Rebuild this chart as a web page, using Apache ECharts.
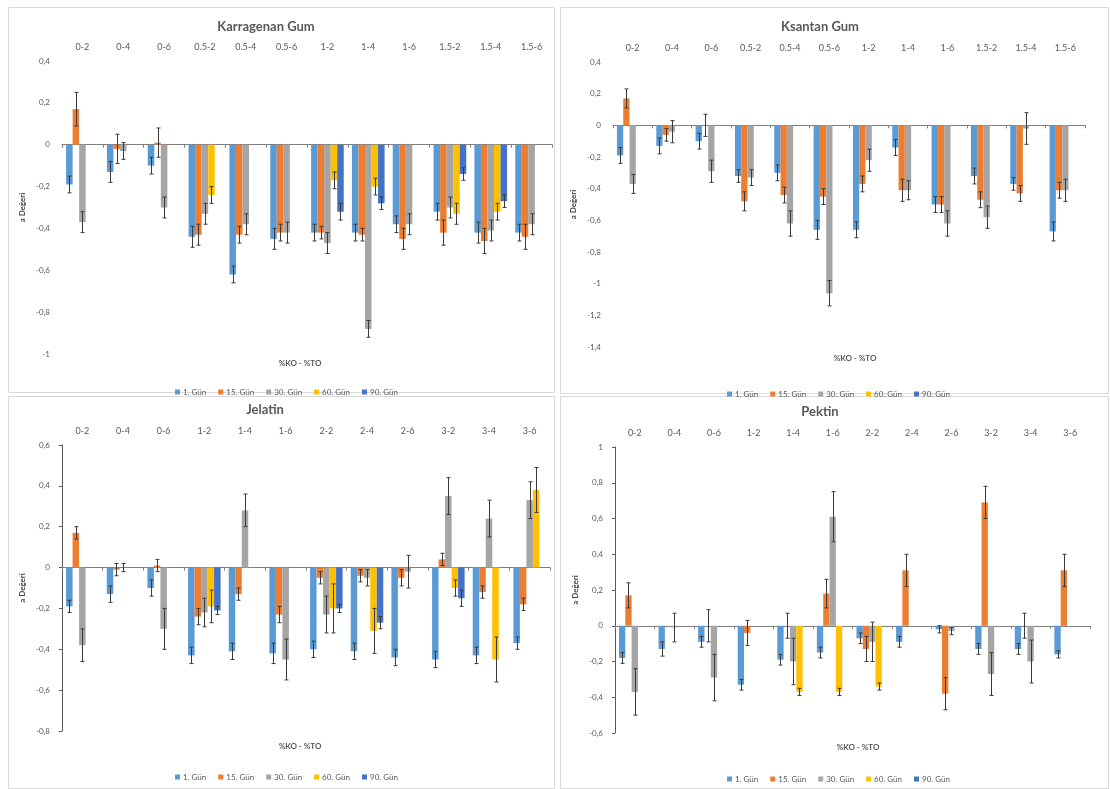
<!DOCTYPE html>
<html>
<head>
<meta charset="utf-8">
<script src="https://cdn.jsdelivr.net/npm/echarts@6/dist/echarts.min.js"></script>
<style>html,body{margin:0;padding:0;background:#fff;}#c{width:1110px;height:789px;}</style>
</head>
<body>
<div id="c"></div>
<script>
// ---------- DATA ----------
const days = ['1. Gün', '15. Gün', '30. Gün', '60. Gün', '90. Gün'];
const catsGum = ['0-2', '0-4', '0-6', '0.5-2', '0.5-4', '0.5-6', '1-2', '1-4', '1-6', '1.5-2', '1.5-4', '1.5-6'];
const catsJelPek = ['0-2', '0-4', '0-6', '1-2', '1-4', '1-6', '2-2', '2-4', '2-6', '3-2', '3-4', '3-6'];
const xName = '%KO - %TO';
const yName = 'a Değeri';

// Karragenan Gum
const karD1  = [-0.19, -0.13, -0.10, -0.44, -0.62, -0.45, -0.42, -0.42, -0.38, -0.32, -0.42, -0.42];
const karD15 = [0.17, -0.02, 0.01, -0.43, -0.43, -0.42, -0.42, -0.43, -0.45, -0.42, -0.46, -0.44];
const karD30 = [-0.37, -0.03, -0.30, -0.33, -0.38, -0.42, -0.47, -0.88, -0.38, -0.30, -0.41, -0.38];
const karD60 = [null, null, null, -0.24, null, null, -0.17, -0.20, null, -0.33, -0.32, null];
const karD90 = [null, null, null, null, null, null, -0.32, -0.28, null, -0.14, -0.27, null];
const karE1  = [0.04, 0.05, 0.04, 0.05, 0.04, 0.05, 0.04, 0.04, 0.04, 0.04, 0.05, 0.04];
const karE15 = [0.08, 0.07, 0.07, 0.05, 0.04, 0.04, 0.03, 0.03, 0.05, 0.06, 0.06, 0.06];
const karE30 = [0.05, 0.04, 0.05, 0.05, 0.05, 0.05, 0.05, 0.04, 0.05, 0.05, 0.05, 0.05];
const karE60 = [0, 0, 0, 0.04, 0, 0, 0.04, 0.04, 0, 0.05, 0.04, 0];
const karE90 = [0, 0, 0, 0, 0, 0, 0.04, 0.03, 0, 0.03, 0.03, 0];

// Ksantan Gum
const ksaD1  = [-0.19, -0.13, -0.10, -0.32, -0.30, -0.66, -0.66, -0.14, -0.50, -0.32, -0.37, -0.67];
const ksaD15 = [0.17, -0.06, 0.00, -0.48, -0.44, -0.45, -0.37, -0.41, -0.50, -0.47, -0.43, -0.41];
const ksaD30 = [-0.37, -0.04, -0.29, -0.33, -0.62, -1.06, -0.22, -0.41, -0.62, -0.58, -0.02, -0.41];
const ksaD60 = [null, null, null, null, null, null, null, null, null, null, null, null];
const ksaD90 = [null, null, null, null, null, null, null, null, null, null, null, null];
const ksaE1  = [0.05, 0.05, 0.05, 0.04, 0.05, 0.06, 0.05, 0.05, 0.05, 0.05, 0.04, 0.06];
const ksaE15 = [0.06, 0.04, 0.07, 0.06, 0.05, 0.05, 0.05, 0.07, 0.05, 0.05, 0.05, 0.05];
const ksaE30 = [0.06, 0.07, 0.07, 0.05, 0.08, 0.08, 0.07, 0.06, 0.08, 0.07, 0.10, 0.07];
const ksaE60 = [0, 0, 0, 0, 0, 0, 0, 0, 0, 0, 0, 0];
const ksaE90 = [0, 0, 0, 0, 0, 0, 0, 0, 0, 0, 0, 0];

// Jelatin
const jelD1  = [-0.19, -0.13, -0.10, -0.43, -0.41, -0.42, -0.40, -0.41, -0.44, -0.45, -0.43, -0.37];
const jelD15 = [0.17, -0.01, 0.01, -0.24, -0.13, -0.23, -0.05, -0.04, -0.05, 0.04, -0.12, -0.18];
const jelD30 = [-0.38, 0.00, -0.30, -0.22, 0.28, -0.45, -0.23, -0.05, -0.02, 0.35, 0.24, 0.33];
const jelD60 = [null, null, null, -0.19, null, null, -0.20, -0.31, null, -0.10, -0.45, 0.38];
const jelD90 = [null, null, null, -0.21, null, null, -0.20, -0.27, null, -0.15, null, null];
const jelE1  = [0.03, 0.04, 0.04, 0.04, 0.04, 0.05, 0.04, 0.04, 0.04, 0.04, 0.04, 0.03];
const jelE15 = [0.03, 0.03, 0.03, 0.04, 0.03, 0.04, 0.03, 0.03, 0.04, 0.03, 0.03, 0.03];
const jelE30 = [0.08, 0.02, 0.10, 0.07, 0.08, 0.10, 0.09, 0.04, 0.08, 0.09, 0.09, 0.09];
const jelE60 = [0, 0, 0, 0.08, 0, 0, 0.12, 0.11, 0, 0.04, 0.11, 0.11];
const jelE90 = [0, 0, 0, 0.02, 0, 0, 0.02, 0.03, 0, 0.04, 0, 0];

// Pektin
const pekD1  = [-0.18, -0.13, -0.09, -0.33, -0.19, -0.15, -0.07, -0.09, -0.02, -0.13, -0.13, -0.16];
const pekD15 = [0.17, null, 0.00, -0.04, 0.00, 0.18, -0.13, 0.31, -0.38, 0.69, 0.00, 0.31];
const pekD30 = [-0.37, -0.01, -0.29, null, -0.20, 0.61, -0.09, null, -0.03, -0.27, -0.20, null];
const pekD60 = [null, null, null, null, -0.37, -0.37, -0.34, null, null, null, null, null];
const pekD90 = [null, null, null, null, null, null, null, null, null, null, null, null];
const pekE1  = [0.03, 0.04, 0.03, 0.03, 0.03, 0.03, 0.03, 0.03, 0.02, 0.03, 0.03, 0.02];
const pekE15 = [0.07, 0, 0.09, 0.07, 0.07, 0.08, 0.07, 0.09, 0.09, 0.09, 0.07, 0.09];
const pekE30 = [0.13, 0.08, 0.13, 0, 0.13, 0.14, 0.11, 0, 0.02, 0.12, 0.12, 0];
const pekE60 = [0, 0, 0, 0, 0.02, 0.02, 0.02, 0, 0, 0, 0, 0];
const pekE90 = [0, 0, 0, 0, 0, 0, 0, 0, 0, 0, 0, 0];

// ---------- BUILD ----------
const colors = ['#5B9BD5', '#ED7D31', '#A5A5A5', '#FFC000', '#4472C4'];
const txt = '#595959';
const FONT = 'Lato, "Open Sans", sans-serif';
const GAP = 0.2;

const panels = [
  { title: 'Karragenan Gum', cats: catsGum, vals: [karD1, karD15, karD30, karD60, karD90], errs: [karE1, karE15, karE30, karE60, karE90],
    grid: { left: 62, top: 61, width: 490, height: 293 }, min: -1, max: 0.4, yLine: false,
    box: [8, 7, 546, 385], titlePos: [266, 27], xNamePos: [300, 363], legend: { left: 170, top: 383 } },
  { title: 'Ksantan Gum', cats: catsGum, vals: [ksaD1, ksaD15, ksaD30, ksaD60, ksaD90], errs: [ksaE1, ksaE15, ksaE30, ksaE60, ksaE90],
    grid: { left: 613, top: 62, width: 472, height: 285 }, min: -1.4, max: 0.4, yLine: false,
    box: [560, 7, 548, 386], titlePos: [820, 27], xNamePos: [855, 358], legend: { left: 722, top: 385 } },
  { title: 'Jelatin', cats: catsJelPek, vals: [jelD1, jelD15, jelD30, jelD60, jelD90], errs: [jelE1, jelE15, jelE30, jelE60, jelE90],
    grid: { left: 62, top: 445, width: 488, height: 286 }, min: -0.8, max: 0.6, yLine: true,
    box: [8, 396, 546, 392], titlePos: [265, 410], xNamePos: [300, 746], legend: { left: 170, top: 768 } },
  { title: 'Pektin', cats: catsJelPek, vals: [pekD1, pekD15, pekD30, pekD60, pekD90], errs: [pekE1, pekE15, pekE30, pekE60, pekE90],
    grid: { left: 615, top: 447, width: 475, height: 286 }, min: -0.6, max: 1, yLine: true,
    box: [560, 396, 548, 392], titlePos: [820, 412], xNamePos: [858, 747], legend: { left: 722, top: 770 } }
];

const grids = [], xAxes = [], yAxes = [], series = [], legends = [], graphics = [];

function fmt(v) { return String(Math.round(v * 10) / 10).replace('.', ','); }

function errRender(params, api) {
  const cat = api.value(0), val = api.value(1), err = api.value(2), slot = api.value(3);
  const band = api.size([1, 0])[0];
  const group = band * (1 - GAP);
  const bw = group / 5;
  const off = -group / 2 + bw * (slot + 0.5);
  const pTop = api.coord([cat, val + err]);
  const pBot = api.coord([cat, val - err]);
  const x = Math.round(pTop[0] + off) + 0.5;
  const c = 2;
  const st = { stroke: '#3a3a3a', lineWidth: 1 };
  return {
    type: 'group',
    children: [
      { type: 'line', shape: { x1: x, y1: pTop[1], x2: x, y2: pBot[1] }, style: st },
      { type: 'line', shape: { x1: x - c, y1: pTop[1], x2: x + c, y2: pTop[1] }, style: st },
      { type: 'line', shape: { x1: x - c, y1: pBot[1], x2: x + c, y2: pBot[1] }, style: st }
    ]
  };
}

panels.forEach((p, i) => {
  grids.push(Object.assign({ containLabel: false }, p.grid));
  // label axis (top)
  xAxes.push({
    type: 'category', gridIndex: i, data: p.cats, position: 'top',
    axisLine: { show: false, onZero: false }, axisTick: { show: false },
    axisLabel: { fontSize: 9, color: txt, fontFamily: FONT, margin: 9, interval: 0 },
    splitLine: { show: false }
  });
  // zero line axis
  xAxes.push({
    type: 'category', gridIndex: i, data: p.cats, position: 'bottom',
    axisLine: { show: true, onZero: true, lineStyle: { color: '#7f7f7f', width: 1 } },
    axisTick: { show: true, length: 3, lineStyle: { color: '#7f7f7f' } },
    axisLabel: { show: false }, splitLine: { show: false }
  });
  yAxes.push({
    type: 'value', gridIndex: i, min: p.min, max: p.max, interval: 0.2,
    name: yName, nameLocation: 'middle', nameGap: 36,
    nameTextStyle: { fontSize: 8, color: '#404040', fontWeight: 'bold', fontFamily: FONT },
    axisLine: { show: p.yLine, lineStyle: { color: '#595959' } },
    axisTick: { show: p.yLine, length: 3, lineStyle: { color: '#595959' } },
    axisLabel: { fontSize: 8, color: txt, fontFamily: FONT, margin: 12, formatter: fmt },
    splitLine: { show: false }
  });
  days.forEach((d, s) => {
    series.push({
      name: d, type: 'bar', xAxisIndex: 2 * i, yAxisIndex: i,
      data: p.vals[s], barGap: '0%', barCategoryGap: (GAP * 100) + '%',
      itemStyle: { color: colors[s] }, emphasis: { disabled: true }, z: 2
    });
  });
  const errData = [];
  days.forEach((d, s) => {
    p.vals[s].forEach((v, k) => {
      const e = p.errs[s][k];
      if (v !== null && e > 0) errData.push([k, v, e, s]);
    });
  });
  series.push({
    type: 'custom', xAxisIndex: 2 * i, yAxisIndex: i, renderItem: errRender,
    data: errData, encode: { x: 0, y: 1 }, z: 5, silent: true
  });
  legends.push({
    data: days, left: p.legend.left, top: p.legend.top, icon: 'rect',
    itemWidth: 5, itemHeight: 5, itemGap: 12, selectedMode: false,
    textStyle: { fontSize: 8, color: txt, fontFamily: FONT, padding: [0, 0, 0, -2] }
  });
  graphics.push({
    type: 'rect', shape: { x: p.box[0] + 0.5, y: p.box[1] + 0.5, width: p.box[2], height: p.box[3] },
    style: { fill: 'none', stroke: '#d9d9d9', lineWidth: 1 }, silent: true, z: -10
  });
  graphics.push({
    type: 'text', x: p.titlePos[0], y: p.titlePos[1],
    style: { text: p.title, fill: txt, font: 'bold 13px ' + FONT, textAlign: 'center', textVerticalAlign: 'middle' }
  });
  graphics.push({
    type: 'text', x: p.xNamePos[0], y: p.xNamePos[1],
    style: { text: xName, fill: txt, font: 'bold 8px ' + FONT, textAlign: 'center', textVerticalAlign: 'middle' }
  });
});

const chart = echarts.init(document.getElementById('c'), null, { renderer: 'canvas' });
chart.setOption({
  backgroundColor: '#ffffff',
  animation: false,
  textStyle: { fontFamily: FONT },
  grid: grids, xAxis: xAxes, yAxis: yAxes, series: series,
  legend: legends, graphic: graphics
});
</script>
</body>
</html>
